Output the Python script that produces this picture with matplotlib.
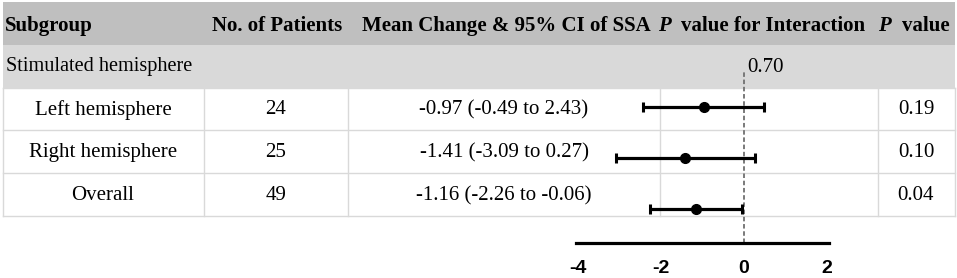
import matplotlib.pyplot as plt
from matplotlib.patches import Rectangle

plt.rcParams['font.family'] = 'Liberation Serif'
plt.rcParams['axes.unicode_minus'] = False

# data
subgroups = ['Left hemisphere', 'Right hemisphere', 'Overall']
n_patients = [24, 25, 49]
ci_text = ['-0.97 (-0.49 to 2.43)', '-1.41 (-3.09 to 0.27)', '-1.16 (-2.26 to -0.06)']
means = [-0.97, -1.41, -1.16]
ci_low = [-2.43, -3.09, -2.26]
ci_high = [0.49, 0.27, -0.06]
p_values = ['0.19', '0.10', '0.04']
p_interaction = '0.70'
xticks = [-4, -2, 0, 2]

W, H = 957, 278
fig = plt.figure(figsize=(W / 100, H / 100), dpi=100)

# background axes in pixel units for the table
bg = fig.add_axes([0, 0, 1, 1])
bg.set_xlim(0, W)
bg.set_ylim(H, 0)
bg.axis('off')

grid = '#d9d9d9'
fs = 15
left, right = 3, 955
cols = [left, 204, 348, 660, 878, right]
rows = [2, 45, 88, 130, 173, 216]

bg.add_patch(Rectangle((left, rows[0]), right - left, rows[1] - rows[0], color='#bfbfbf', lw=0))
bg.add_patch(Rectangle((left, rows[1]), right - left, rows[2] - rows[1], color='#d9d9d9', lw=0))
for y in rows[2:]:
    bg.plot([left, right], [y, y], color=grid, lw=1)
for x in cols:
    bg.plot([x, x], [rows[2], rows[-1]], color=grid, lw=1)

# header
hy = 26
bg.text(5, hy, 'Subgroup', fontsize=fs, fontweight='bold', va='center', ha='left')
bg.text(277, hy, 'No. of Patients', fontsize=fs, fontweight='bold', va='center', ha='center')
bg.text(362, hy, 'Mean Change & 95% CI of SSA', fontsize=fs, fontweight='bold', va='center', ha='left')
bg.text(658, hy, 'P', fontsize=fs, fontweight='bold', fontstyle='italic', va='center', ha='left')
bg.text(681, hy, 'value for Interaction', fontsize=fs, fontweight='bold', va='center', ha='left')
bg.text(878, hy, 'P', fontsize=fs, fontweight='bold', fontstyle='italic', va='center', ha='left')
bg.text(902, hy, 'value', fontsize=fs, fontweight='bold', va='center', ha='left')

bg.text(6, 67, 'Stimulated hemisphere', fontsize=14.6, va='center', ha='left')
bg.text(747, 67, p_interaction, fontsize=fs, va='center', ha='left')

for i, name in enumerate(subgroups):
    yc = (rows[i + 2] + rows[i + 3]) / 2 + 1
    bg.text(103, yc, name, fontsize=fs, va='center', ha='center')
    bg.text(276, yc, str(n_patients[i]), fontsize=fs, va='center', ha='center')
    bg.text(504, yc, ci_text[i], fontsize=fs, va='center', ha='center')
    bg.text(916, yc, p_values[i], fontsize=fs, va='center', ha='center')

# forest plot axes: 0 at x=744 px, 41.5 px per unit
x0, ppu = 744, 41.5
xmin, xmax = -4.05, 2.05
top_px, bot_px = 72, 243
ax = fig.add_axes([(x0 + xmin * ppu) / W, (H - bot_px) / H,
                   (xmax - xmin) * ppu / W, (bot_px - top_px) / H])
ax.patch.set_alpha(0)
ax.set_xlim(xmin, xmax)
ax.set_ylim(2.667, -0.686)
ypos = list(range(len(means)))
xerr = [[m - lo for m, lo in zip(means, ci_low)], [hi - m for m, hi in zip(means, ci_high)]]
ax.errorbar(means, ypos, xerr=xerr, fmt='o', color='black', ms=7, lw=2.3, capsize=3.4,
            capthick=2.2, clip_on=False, zorder=3)
ax.axvline(0, color='#707070', ls=(0, (2.5, 1.5)), lw=1.3, zorder=2)
for s in ['top', 'right', 'left']:
    ax.spines[s].set_visible(False)
ax.spines['bottom'].set_linewidth(2.3)
ax.spines['bottom'].set_bounds(xmin, xmax)
ax.set_yticks([])
ax.set_xticks(xticks)
ax.tick_params(axis='x', length=0, pad=12)
for lab in ax.get_xticklabels():
    lab.set_fontfamily('Liberation Sans')
    lab.set_fontweight('bold')
    lab.set_fontsize(14)

fig.savefig('out.png', dpi=100)
